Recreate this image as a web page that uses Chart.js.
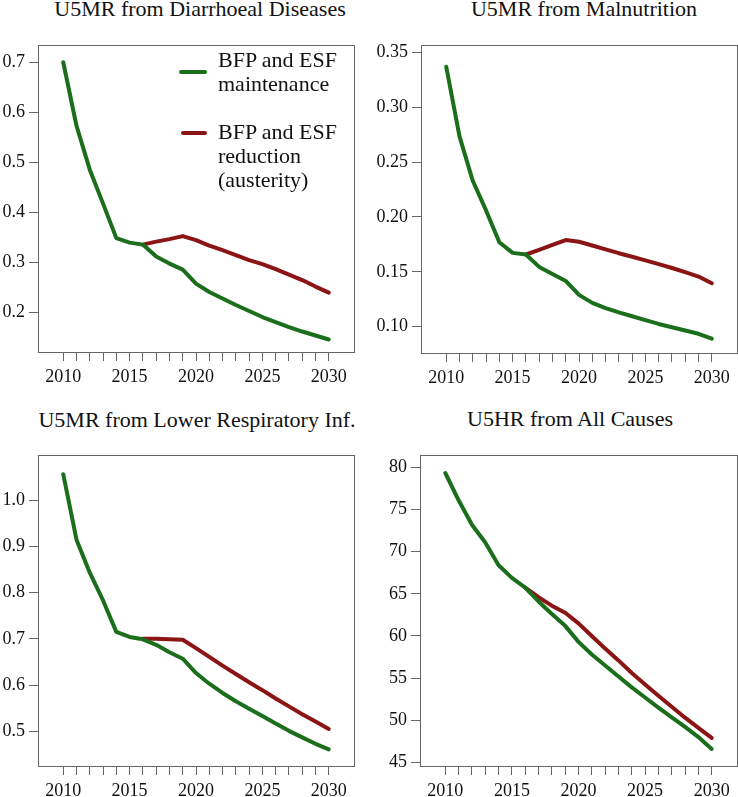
<!DOCTYPE html>
<html>
<head>
<meta charset="utf-8">
<script src="https://cdn.jsdelivr.net/npm/chart.js@4/dist/chart.umd.min.js"></script>
<style>
  body { margin: 0; background: #fff; }
  #page { position: relative; width: 738px; height: 797px; overflow: hidden; font-family: "Liberation Serif", "DejaVu Serif", serif; }
  canvas { position: absolute; }
  .title { position: absolute; font-size: 22px; line-height: 24px; white-space: nowrap; transform: translateX(-50%); color: #111; }
  .leg { position: absolute; font-size: 22px; line-height: 24px; color: #111; }
  .swatch { position: absolute; height: 4px; border-radius: 2px; }
</style>
</head>
<body>
<div id="page">
  <div class="title" style="left:200px; top:-3px;">U5MR from Diarrhoeal Diseases</div>
  <div class="title" style="left:584px; top:-3px;">U5MR from Malnutrition</div>
  <div class="title" style="left:197px; top:408px;">U5MR from Lower Respiratory Inf.</div>
  <div class="title" style="left:570px; top:407px;">U5HR from All Causes</div>

  <canvas id="c1" width="369" height="368" style="left:0; top:30px;"></canvas>
  <canvas id="c2" width="369" height="368" style="left:369px; top:30px;"></canvas>
  <canvas id="c3" width="369" height="357" style="left:0; top:440px;"></canvas>
  <canvas id="c4" width="369" height="357" style="left:369px; top:440px;"></canvas>

  <div class="swatch" style="left:179px; top:70px; width:28px; background:#1b6e1b;"></div>
  <div class="leg" style="left:218px; top:48px;">BFP and ESF<br>maintenance</div>
  <div class="swatch" style="left:181px; top:131px; width:26px; background:#8b1414;"></div>
  <div class="leg" style="left:218px; top:120px;">BFP and ESF<br>reduction<br>(austerity)</div>
</div>
<script>
const years = [2010,2011,2012,2013,2014,2015,2016,2017,2018,2019,2020,2021,2022,2023,2024,2025,2026,2027,2028,2029,2030];
const xTicks = years;

// U5MR from Diarrhoeal Diseases
const diarMaint = [0.700,0.573,0.485,0.417,0.348,0.339,0.335,0.311,0.297,0.285,0.257,0.240,0.227,0.214,0.202,0.190,0.180,0.170,0.161,0.153,0.145];
const diarAust  = [null,null,null,null,null,null,0.335,0.341,0.346,0.352,0.344,0.333,0.324,0.314,0.304,0.296,0.286,0.275,0.264,0.251,0.239];
const diarTicks = [0.2,0.3,0.4,0.5,0.6,0.7];

// U5MR from Malnutrition
const malnMaint = [0.337,0.2735,0.233,0.206,0.177,0.1673,0.1658,0.1545,0.148,0.1417,0.129,0.1217,0.117,0.113,0.1095,0.106,0.1025,0.0995,0.0965,0.0935,0.089];
const malnAust  = [null,null,null,null,null,null,0.1658,0.170,0.1745,0.179,0.1774,0.1740,0.1705,0.1670,0.1638,0.1605,0.1570,0.1535,0.1497,0.1457,0.1396];
const malnTicks = [0.10,0.15,0.20,0.25,0.30,0.35];

// U5MR from Lower Respiratory Inf.
const respMaint = [1.056,0.9145,0.843,0.783,0.715,0.704,0.699,0.687,0.671,0.657,0.626,0.603,0.583,0.565,0.549,0.533,0.517,0.501,0.487,0.473,0.461];
const respAust  = [null,null,null,null,null,null,0.700,0.700,0.699,0.698,0.680,0.661,0.642,0.624,0.606,0.589,0.571,0.554,0.537,0.521,0.505];
const respTicks = [0.5,0.6,0.7,0.8,0.9,1.0];

// U5HR from All Causes
const allMaint = [79.34,76.1,73.2,71.1,68.4,66.9,65.75,64.1,62.6,61.2,59.3,57.8,56.5,55.2,53.9,52.7,51.5,50.35,49.2,48.0,46.6];
const allAust  = [null,null,null,null,null,null,65.75,64.6,63.6,62.75,61.5,60.0,58.5,57.1,55.6,54.25,52.9,51.6,50.3,49.1,47.9];
const allTicks = [45,50,55,60,65,70,75,80];

const green = "#1b6e1b";
const red = "#8b1414";
const axisGray = "#666";

const boxPlugin = {
  id: "box",
  afterDraw(chart) {
    const a = chart.chartArea, ctx = chart.ctx;
    ctx.save();
    ctx.strokeStyle = axisGray;
    ctx.lineWidth = 1;
    ctx.strokeRect(Math.round(a.left) + 0.5, Math.round(a.top) + 0.5, Math.round(a.right - a.left), Math.round(a.bottom - a.top));
    ctx.restore();
  }
};

function points(vals) {
  return years.map((yr, i) => ({ x: yr, y: vals[i] })).filter(p => p.y !== null);
}

function createChart(id, maint, aust, yTicks, yMin, yMax, digits, lay) {
  return new Chart(document.getElementById(id), {
    type: "line",
    data: {
      datasets: [
        { label: "BFP and ESF maintenance", data: points(maint), borderColor: green, backgroundColor: green },
        { label: "BFP and ESF reduction (austerity)", data: points(aust), borderColor: red, backgroundColor: red }
      ]
    },
    options: {
      responsive: false,
      animation: false,
      layout: { padding: { top: lay.top, right: lay.right, left: 0, bottom: 0 } },
      elements: {
        point: { radius: 0 },
        line: { borderWidth: 4, tension: 0, borderCapStyle: "round", borderJoinStyle: "round", fill: false }
      },
      plugins: { legend: { display: false }, tooltip: { enabled: false } },
      scales: {
        x: {
          type: "linear", min: 2008.1, max: 2031.9,
          afterBuildTicks: s => { s.ticks = xTicks.map(v => ({ value: v })); },
          afterFit: s => { s.height = lay.xh; },
          grid: { drawOnChartArea: false, drawTicks: true, tickLength: 9, color: axisGray },
          border: { display: false },
          ticks: {
            autoSkip: false, maxRotation: 0, padding: 5, color: "#111",
            font: { family: "Liberation Serif", size: 18 },
            callback: v => (v % 5 === 0 ? String(v) : "")
          }
        },
        y: {
          min: yMin, max: yMax,
          afterBuildTicks: s => { s.ticks = yTicks.map(v => ({ value: v })); },
          afterFit: s => { s.width = lay.yw; },
          grid: { drawOnChartArea: false, drawTicks: true, tickLength: 9, color: axisGray },
          border: { display: false },
          ticks: {
            padding: 4, color: "#111",
            font: { family: "Liberation Serif", size: 18 },
            callback: v => Number(v).toFixed(digits)
          }
        }
      }
    },
    plugins: [boxPlugin]
  });
}

createChart("c1", diarMaint, diarAust, diarTicks, 0.12, 0.735, 1, { top: 7, right: 15, yw: 38, xh: 46 });
createChart("c2", malnMaint, malnAust, malnTicks, 0.076, 0.357, 2, { top: 8, right: 1, yw: 52, xh: 45 });
createChart("c3", respMaint, respAust, respTicks, 0.425, 1.098, 1, { top: 11, right: 15, yw: 38, xh: 31 });
createChart("c4", allMaint, allAust, allTicks, 44.57, 81.5, 0, { top: 11, right: 1, yw: 51, xh: 31 });
</script>
</body>
</html>
